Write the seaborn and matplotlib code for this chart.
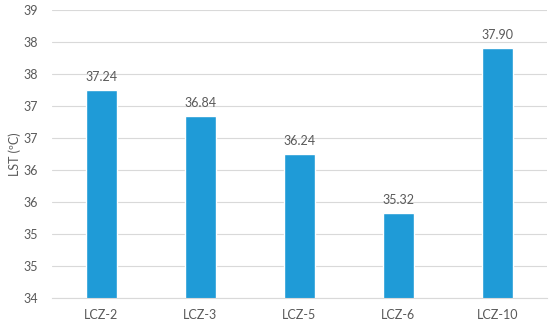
import pandas as pd
import numpy as np
import seaborn as sns
import matplotlib.pyplot as plt

zones = ['LCZ-2', 'LCZ-3', 'LCZ-5', 'LCZ-6', 'LCZ-10']
lst = [37.24, 36.84, 36.24, 35.32, 37.90]

y_ticks = [34.0, 34.5, 35.0, 35.5, 36.0, 36.5, 37.0, 37.5, 38.0, 38.5]
y_tick_labels = ['34', '35', '35', '36', '36', '37', '37', '38', '38', '39']

df = pd.DataFrame({'zone': zones, 'lst': lst})

sns.set_style('white')
plt.rcParams['font.family'] = ['Lato', 'DejaVu Sans']

text_col = '#595959'
fig = plt.figure(figsize=(5.5, 3.27), dpi=100)
ax = fig.add_axes([0.0945, 0.0887, 0.9, 0.882])

sns.barplot(data=df, x='zone', y='lst', color='#1F9BD7', saturation=1, width=0.31, ax=ax)
ax.bar_label(ax.containers[0], fmt='%.2f', padding=5, fontsize=9, color=text_col)

ax.set_ylim(34, 38.5)
ax.set_yticks(y_ticks)
ax.set_yticklabels(y_tick_labels)
ax.set_xlim(-0.5, len(zones) - 0.5)
ax.grid(axis='y', color='#D9D9D9', linewidth=0.8)
ax.set_axisbelow(True)

for s in ['top', 'right', 'left']:
    ax.spines[s].set_visible(False)
ax.spines['bottom'].set_color('#D9D9D9')

ax.tick_params(axis='both', length=0, labelsize=9, labelcolor=text_col)
ax.tick_params(axis='x', pad=8)
ax.tick_params(axis='y', pad=10)
ax.set_xlabel('')
ax.set_ylabel('LST (ºC)', fontsize=9, color=text_col, labelpad=2)

fig.savefig('out.png', dpi=100)
